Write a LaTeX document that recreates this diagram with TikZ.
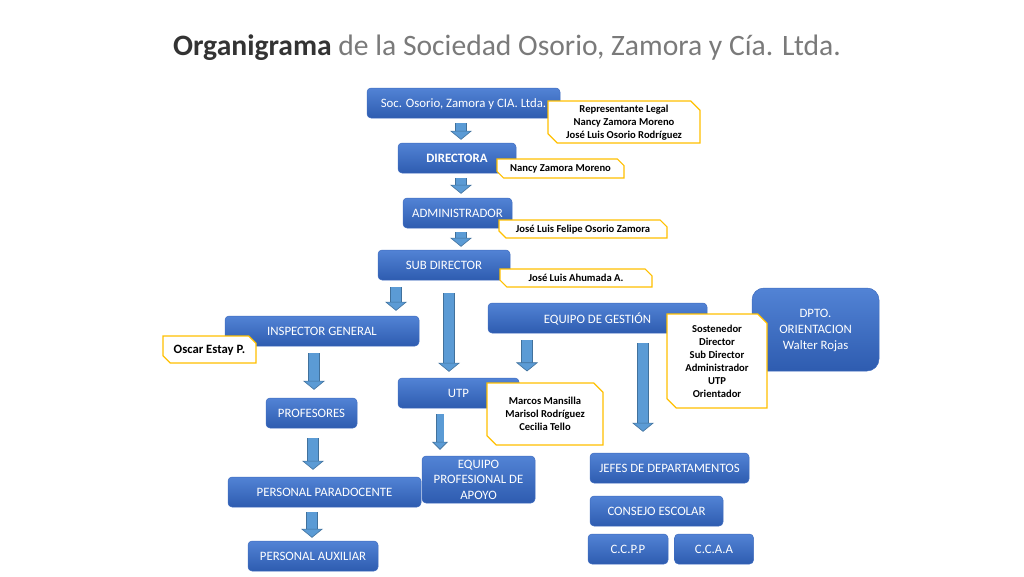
\documentclass[tikz,border=0pt]{standalone}
\usepackage{fontspec}
\setmainfont{Carlito}
\usetikzlibrary{arrows.meta,positioning,shapes.misc}

\definecolor{boxtop}{HTML}{5283D5}
\definecolor{boxbot}{HTML}{2E5CB0}
\definecolor{boxedge}{HTML}{3F6CBF}
\definecolor{notegold}{HTML}{FFC000}
\definecolor{arrowfill}{HTML}{5B9BD5}
\definecolor{arrowedge}{HTML}{41719C}
\definecolor{titledark}{HTML}{333333}
\definecolor{titlegray}{HTML}{7A7A7A}

\begin{document}
\begin{tikzpicture}[x=1pt,y=-1pt]
        \tikzstyle{unit}=[rectangle, rounded corners=4pt, top color=boxtop, bottom color=boxbot,
            draw=boxedge, line width=0.5pt, text=white, align=center, inner sep=0pt, text depth=0pt,
            font=\fontsize{12.8}{15}\selectfont, minimum height=30pt]
        \tikzstyle{note}=[chamfered rectangle, chamfered rectangle corners={north east,south west},
            chamfered rectangle xsep=6pt, draw=notegold, fill=white, line width=1.2pt,
            align=center, inner sep=0pt, text depth=0pt, font=\bfseries\fontsize{10.6}{13}\selectfont]
        \tikzstyle{flow}=[draw=arrowedge, line width=0.6pt, double=arrowfill, double distance=10pt,
            -{Triangle[width=22pt,length=9pt,line width=0.6pt,fill=arrowfill]}]

        \useasboundingbox (0,0) rectangle (1024,576);

        \node[font=\fontsize{29.6}{34}\selectfont, text=titlegray] (title) at (507,48)
            {\textcolor{titledark}{\textbf{Organigrama}} de la Sociedad Osorio, Zamora y Cía. Ltda.};

        % main chain
        \node[unit, minimum width=193pt] (soc)   at (463.5,103) {Soc. Osorio, Zamora y CIA. Ltda.};
        \node[unit, minimum width=118pt] (dir)   at (457,158)   {\bfseries DIRECTORA};
        \node[unit, minimum width=109pt] (adm)   at (457.5,213) {ADMINISTRADOR};
        \node[unit, minimum width=132pt] (sub)   at (444,265)   {SUB DIRECTOR};
        \node[unit, minimum width=194pt] (insp)  at (322,331)   {INSPECTOR GENERAL};
        \node[unit, minimum width=219pt] (eqg)   at (597.5,318) {EQUIPO DE GESTIÓN};
        \node[unit, minimum width=127pt, minimum height=83pt, rounded corners=12pt,
              font=\fontsize{12.8}{16}\selectfont] (dpto) at (815.5,329.5) {DPTO.\\ORIENTACION\\Walter Rojas};
        \node[unit, minimum width=121pt] (utp)   at (458.5,393) {UTP};
        \node[unit, minimum width=91pt]  (prof)  at (311.5,413) {PROFESORES};
        \node[unit, minimum width=113pt, minimum height=47pt,
              font=\fontsize{12.8}{15.5}\selectfont] (epa) at (478.5,479.5) {EQUIPO\\PROFESIONAL DE\\APOYO};
        \node[unit, minimum width=193pt] (para)  at (324.5,492) {PERSONAL PARADOCENTE};
        \node[unit, minimum width=130pt] (aux)   at (313,556)   {PERSONAL AUXILIAR};
        \node[unit, minimum width=159pt] (jefes) at (669.5,468) {JEFES DE DEPARTAMENTOS};
        \node[unit, minimum width=133pt] (cons)  at (656.5,511) {CONSEJO ESCOLAR};
        \node[unit, minimum width=80pt]  (ccpp)  at (628,549)   {C.C.P.P};
        \node[unit, minimum width=79pt]  (ccaa)  [right=6pt of ccpp] {C.C.A.A};

        % names
        \node[note, minimum width=152pt, minimum height=42pt] (rep)    at (624,122)
            {Representante Legal\\Nancy Zamora Moreno\\José Luis Osorio Rodríguez};
        \node[note, minimum width=127pt, minimum height=19pt] (nancy)  at (560.5,168.5) {Nancy Zamora Moreno};
        \node[note, minimum width=168pt, minimum height=18pt] (felipe) at (583,229) {José Luis Felipe Osorio Zamora};
        \node[note, minimum width=152pt, minimum height=18pt] (ahum)   at (576,278) {José Luis Ahumada A.};
        \node[note, minimum width=93pt, minimum height=27pt,
              font=\bfseries\fontsize{12.7}{14}\selectfont] (oscar) at (209.5,349.5) {Oscar Estay P.};
        \node[note, minimum width=100pt, minimum height=94pt] (sost)   at (717,361)
            {Sostenedor\\Director\\Sub Director\\Administrador\\UTP\\Orientador};
        \node[note, minimum width=116pt, minimum height=62pt] (marcos) at (545,414)
            {Marcos Mansilla\\Marisol Rodríguez\\Cecilia Tello};

        % block arrows
        \draw[flow, shorten <=5pt, shorten >=3pt]  ([xshift=-2.5pt]soc.south) -- ([xshift=4pt]dir.north);
        \draw[flow, shorten <=5pt, shorten >=4pt]  ([xshift=4pt]dir.south)    -- ([xshift=3.5pt]adm.north);
        \draw[flow, shorten <=4pt, shorten >=3pt]  ([xshift=3.5pt]adm.south)  -- ([xshift=17pt]sub.north);
        \draw[flow, shorten <=7pt, shorten >=5pt]  ([xshift=-48pt]sub.south)  -- ([xshift=74pt]insp.north);
        \draw[flow, shorten <=13pt, shorten >=6pt] ([xshift=5pt]sub.south)    -- ([xshift=-9.5pt]utp.north);
        \draw[flow, shorten <=7pt, shorten >=11pt] ([xshift=-70.5pt]eqg.south) -- ([xshift=-18pt]marcos.north);
        \draw[flow, shorten <=10pt, shorten >=21pt] ([xshift=45.5pt]eqg.south) -- ([xshift=-26.5pt]jefes.north);
        \draw[flow, shorten <=7pt, shorten >=8pt]  ([xshift=-8pt]insp.south) -- ([xshift=2.5pt]prof.north);
        \draw[flow, double distance=7pt, -{Triangle[width=16pt,length=8pt,line width=0.6pt,fill=arrowfill]},
              shorten <=6pt, shorten >=6pt]        ([xshift=-18.5pt]utp.south) -- ([xshift=-38.5pt]epa.north);
        \draw[flow, shorten <=10pt, shorten >=7pt] ([xshift=1.5pt]prof.south) -- ([xshift=-11.5pt]para.north);
        \draw[flow, shorten <=5pt, shorten >=3pt]  ([xshift=-12.5pt]para.south) -- ([xshift=-1pt]aux.north);
\end{tikzpicture}
\end{document}
